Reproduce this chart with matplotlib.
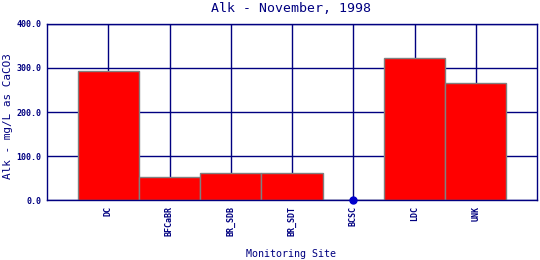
import matplotlib
matplotlib.use("Agg")
import matplotlib.pyplot as plt

sites = ["DC", "BFCaBR", "BR_SDB", "BR_SDT", "BCSC", "LDC", "UNK"]
alk = [293.0, 52.0, 61.0, 61.0, 0.0, 322.0, 267.0]
yticks = [0.0, 100.0, 200.0, 300.0, 400.0]

navy = "#000080"
mono = "DejaVu Sans Mono"

fig = plt.figure(figsize=(5.4, 2.6), dpi=100)
ax = fig.add_axes([47/540, 60/260, 490/540, 176/260])

pos = list(range(1, len(sites) + 1))
ax.set_xlim(0, len(sites) + 1)
ax.set_ylim(0, 400)

for v in pos:
    ax.axvline(v, color=navy, lw=1.0, zorder=1)
for t in yticks:
    ax.axhline(t, color=navy, lw=1.0, zorder=1)

vals_bar = [v if v > 0 else 0 for v in alk]
ax.bar(pos, vals_bar, width=1.0, color="#ff0000", edgecolor="#808080", linewidth=1.0, zorder=2)
zero_pos = [p for p, v in zip(pos, alk) if v == 0]
ax.plot(zero_pos, [0]*len(zero_pos), "o", color="#0000cc", markersize=5, zorder=4, clip_on=False)

ax.set_xticks(pos)
ax.set_xticklabels(sites, rotation=90, fontsize=6, fontweight="bold", family=mono, color=navy)
ax.set_yticks(yticks)
ax.set_yticklabels([f"{t:.1f}" for t in yticks], fontsize=6, fontweight="bold", family=mono, color=navy)
ax.tick_params(length=0, pad=4)

for s in ax.spines.values():
    s.set_color(navy)
    s.set_linewidth(1.0)
    s.set_zorder(3)

fig.text(291/540, 1 - 9/260, "Alk - November, 1998", fontsize=9.5, family=mono, color=navy,
         ha="center", va="center")
fig.text(291/540, 1 - 254/260, "Monitoring Site", fontsize=7.2, family=mono, color=navy,
         ha="center", va="center")
fig.text(8/540, 1 - 116/260, "Alk - mg/L as CaCO3", fontsize=7.9, family=mono, color=navy,
         ha="center", va="center", rotation=90)

fig.savefig("out.png", dpi=100, facecolor="white")
